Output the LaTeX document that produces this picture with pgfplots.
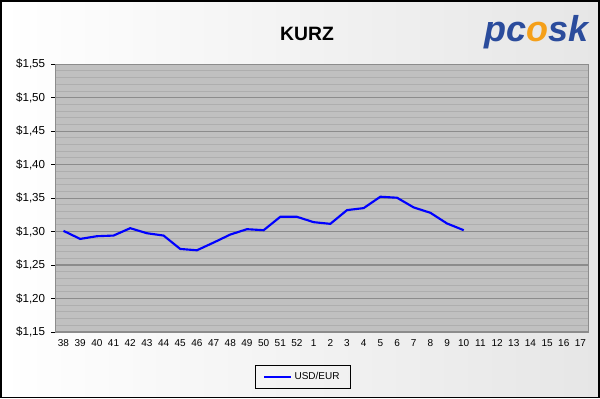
\documentclass[border=0pt]{standalone}
\usepackage{pgfplots}
\pgfplotsset{compat=1.18}
\usepackage{fontspec}
\setmainfont{Liberation Sans}
\definecolor{plotbg}{HTML}{C0C0C0}
\definecolor{majgrid}{HTML}{8C8C8C}
\definecolor{mingrid}{HTML}{AEAEAE}
\definecolor{logoblue}{HTML}{2B4C9C}
\definecolor{flame}{HTML}{F5A01A}
\definecolor{bgright}{HTML}{E6E6E6}
\pgfplotstableread{
x y
0 1.301
1 1.289
2 1.293
3 1.294
4 1.305
5 1.2975
6 1.294
7 1.274
8 1.272
9 1.2835
10 1.2955
11 1.3035
12 1.302
13 1.322
14 1.322
15 1.314
16 1.3115
17 1.332
18 1.335
19 1.352
20 1.3505
21 1.336
22 1.328
23 1.312
24 1.302
}\usdeur
\begin{document}
\begin{tikzpicture}[x=0.75pt,y=0.75pt]
\shade[left color=white, right color=bgright] (0,0) rectangle (600,398);
\draw[black, line width=1.2pt] (0.6,0.6) rectangle (599.4,397.4);
\node[font=\bfseries\fontsize{14.5}{16}\selectfont] at (307,364) {KURZ};
\node[font=\bfseries\itshape\fontsize{27}{28}\selectfont, text=logoblue, inner sep=0pt] at (537,366) {pc\textcolor{flame}{o}sk};
\begin{axis}[
  at={(41.25pt,49.5pt)}, anchor=south west,
  scale only axis, width=400.5pt, height=201pt,
  xmin=-0.5, xmax=31.5, ymin=1.15, ymax=1.55,
  axis background/.style={fill=plotbg},
  axis line style={draw=majgrid, line width=0.8pt},
  tick pos=left,
  xtick={0,...,31},
  xticklabels={38,39,40,41,42,43,44,45,46,47,48,49,50,51,52,1,2,3,4,5,6,7,8,9,10,11,12,13,14,15,16,17},
  extra x ticks={-0.5,0.5,...,31.5},
  extra x tick labels={},
  extra x tick style={major tick length=3pt, tick style={black, line width=0.6pt}, xtick align=outside, grid=none, tick pos=left},
  x tick label style={font=\fontsize{7.5}{8}\selectfont, yshift=-2.5pt},
  xtick style={draw=none},
  ytick={1.15,1.20,...,1.56},
  yticklabels={{\$1,15},{\$1,20},{\$1,25},{\$1,30},{\$1,35},{\$1,40},{\$1,45},{\$1,50},{\$1,55}},
  y tick label style={font=\fontsize{8.7}{10}\selectfont, xshift=-1pt},
  minor ytick={1.16,1.17,...,1.55},
  ytick align=outside, major tick length=3pt, minor tick length=0pt,
  ytick style={black, line width=0.6pt},
  ymajorgrids, yminorgrids,
  major grid style={majgrid, line width=0.8pt},
  minor grid style={mingrid, line width=0.6pt},
  legend style={at={(axis description cs:0.464,-0.168)}, anchor=center,
    draw=black, line width=0.6pt, fill=none, font=\fontsize{7.5}{9}\selectfont,
    inner xsep=6pt, inner ysep=3pt, cells={anchor=west}},
  legend image code/.code={\draw[#1, line width=1.5pt] (0pt,0pt) -- (20pt,0pt);},
  clip=false,
]
\addplot[blue, line width=1.6pt] table[x=x,y=y] {\usdeur};
\addlegendentry{USD/EUR}
\end{axis}
\end{tikzpicture}
\end{document}
